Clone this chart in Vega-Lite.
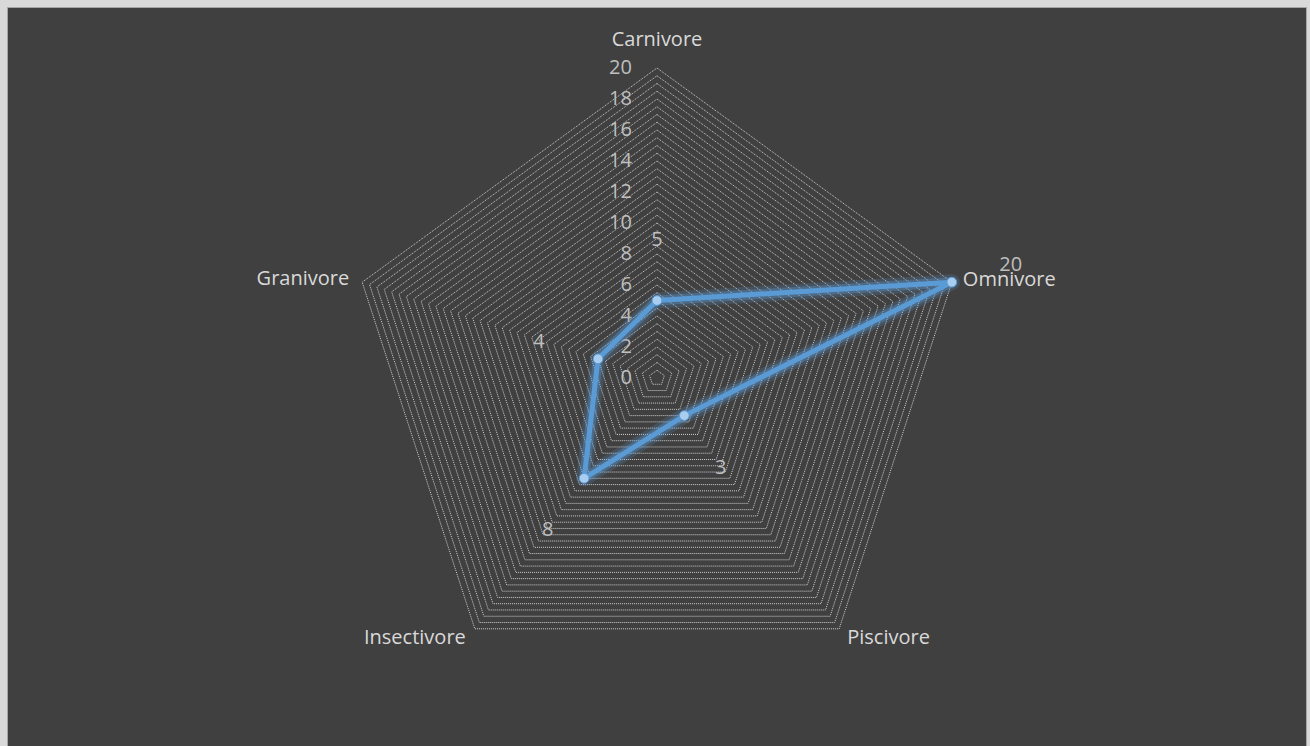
{
  "$schema": "https://vega.github.io/schema/vega-lite/v6.json",
  "width": 1299,
  "height": 739,
  "autosize": "none",
  "padding": {"left": 7, "top": 7, "right": 4, "bottom": 0},
  "background": "#d9d9d9",
  "config": {
    "view": {"fill": "#404040", "stroke": "#a6a6a6", "strokeWidth": 1},
    "text": {"font": "Open Sans", "fontSize": 20}
  },
  "datasets": {
    "diet": [
      {"category": "Carnivore", "i": 0, "value": 5},
      {"category": "Omnivore", "i": 1, "value": 20},
      {"category": "Piscivore", "i": 2, "value": 3},
      {"category": "Insectivore", "i": 3, "value": 8},
      {"category": "Granivore", "i": 4, "value": 4}
    ],
    "levels": [
      {"level": 0.5}, {"level": 1}, {"level": 1.5}, {"level": 2}, {"level": 2.5}, {"level": 3}, {"level": 3.5}, {"level": 4},
      {"level": 4.5}, {"level": 5}, {"level": 5.5}, {"level": 6}, {"level": 6.5}, {"level": 7}, {"level": 7.5}, {"level": 8},
      {"level": 8.5}, {"level": 9}, {"level": 9.5}, {"level": 10}, {"level": 10.5}, {"level": 11}, {"level": 11.5}, {"level": 12},
      {"level": 12.5}, {"level": 13}, {"level": 13.5}, {"level": 14}, {"level": 14.5}, {"level": 15}, {"level": 15.5}, {"level": 16},
      {"level": 16.5}, {"level": 17}, {"level": 17.5}, {"level": 18}, {"level": 18.5}, {"level": 19}, {"level": 19.5}, {"level": 20}
    ],
    "ticks": [
      {"tick": 0}, {"tick": 2}, {"tick": 4}, {"tick": 6}, {"tick": 8}, {"tick": 10},
      {"tick": 12}, {"tick": 14}, {"tick": 16}, {"tick": 18}, {"tick": 20}
    ]
  },
  "encoding": {
    "x": {"field": "px", "type": "quantitative", "scale": {"domain": [-41.935, 41.871], "nice": false, "zero": false}, "axis": null},
    "y": {"field": "py", "type": "quantitative", "scale": {"domain": [-23.742, 23.935], "nice": false, "zero": false}, "axis": null}
  },
  "layer": [
    {
      "data": {"name": "levels"},
      "transform": [
        {"calculate": "[0,1,2,3,4]", "as": "v"},
        {"flatten": ["v"]},
        {"calculate": "datum.level * sin(datum.v * 2 * PI / 5)", "as": "px"},
        {"calculate": "datum.level * cos(datum.v * 2 * PI / 5)", "as": "py"}
      ],
      "mark": {"type": "line", "interpolate": "linear-closed", "stroke": "#d0d0d0", "strokeWidth": 1, "strokeDash": [1, 1]},
      "encoding": {
        "detail": {"field": "level", "type": "quantitative"},
        "order": {"field": "v", "type": "quantitative"}
      }
    },
    {
      "data": {"name": "ticks"},
      "transform": [
        {"calculate": "0", "as": "px"},
        {"calculate": "datum.tick", "as": "py"}
      ],
      "mark": {"type": "text", "align": "right", "baseline": "middle", "dx": -25, "color": "#bfbfbf"},
      "encoding": {"text": {"field": "tick", "type": "quantitative"}}
    },
    {
      "data": {"name": "diet"},
      "transform": [
        {"filter": "datum.i == 0"},
        {"calculate": "20 * sin(datum.i * 2 * PI / 5)", "as": "px"},
        {"calculate": "20 * cos(datum.i * 2 * PI / 5)", "as": "py"}
      ],
      "mark": {"type": "text", "align": "center", "baseline": "middle", "dy": -28, "color": "#d9d9d9"},
      "encoding": {"text": {"field": "category"}}
    },
    {
      "data": {"name": "diet"},
      "transform": [
        {"filter": "datum.i == 1"},
        {"calculate": "20 * sin(datum.i * 2 * PI / 5)", "as": "px"},
        {"calculate": "20 * cos(datum.i * 2 * PI / 5)", "as": "py"}
      ],
      "mark": {"type": "text", "align": "left", "baseline": "middle", "dx": 11, "dy": -2, "color": "#d9d9d9"},
      "encoding": {"text": {"field": "category"}}
    },
    {
      "data": {"name": "diet"},
      "transform": [
        {"filter": "datum.i == 2"},
        {"calculate": "20 * sin(datum.i * 2 * PI / 5)", "as": "px"},
        {"calculate": "20 * cos(datum.i * 2 * PI / 5)", "as": "py"}
      ],
      "mark": {"type": "text", "align": "left", "baseline": "middle", "dx": 8, "dy": 9, "color": "#d9d9d9"},
      "encoding": {"text": {"field": "category"}}
    },
    {
      "data": {"name": "diet"},
      "transform": [
        {"filter": "datum.i == 3"},
        {"calculate": "20 * sin(datum.i * 2 * PI / 5)", "as": "px"},
        {"calculate": "20 * cos(datum.i * 2 * PI / 5)", "as": "py"}
      ],
      "mark": {"type": "text", "align": "right", "baseline": "middle", "dx": -9, "dy": 9, "color": "#d9d9d9"},
      "encoding": {"text": {"field": "category"}}
    },
    {
      "data": {"name": "diet"},
      "transform": [
        {"filter": "datum.i == 4"},
        {"calculate": "20 * sin(datum.i * 2 * PI / 5)", "as": "px"},
        {"calculate": "20 * cos(datum.i * 2 * PI / 5)", "as": "py"}
      ],
      "mark": {"type": "text", "align": "right", "baseline": "middle", "dx": -13, "dy": -3, "color": "#d9d9d9"},
      "encoding": {"text": {"field": "category"}}
    },
    {
      "data": {"name": "diet"},
      "transform": [
        {"calculate": "datum.value * sin(datum.i * 2 * PI / 5)", "as": "px"},
        {"calculate": "datum.value * cos(datum.i * 2 * PI / 5)", "as": "py"}
      ],
      "mark": {"type": "line", "interpolate": "linear-closed", "stroke": "#5b9bd5", "strokeWidth": 16, "opacity": 0.2, "strokeJoin": "round"},
      "encoding": {"order": {"field": "i", "type": "quantitative"}}
    },
    {
      "data": {"name": "diet"},
      "transform": [
        {"calculate": "datum.value * sin(datum.i * 2 * PI / 5)", "as": "px"},
        {"calculate": "datum.value * cos(datum.i * 2 * PI / 5)", "as": "py"}
      ],
      "mark": {"type": "line", "interpolate": "linear-closed", "stroke": "#5b9bd5", "strokeWidth": 10, "opacity": 0.35, "strokeJoin": "round"},
      "encoding": {"order": {"field": "i", "type": "quantitative"}}
    },
    {
      "data": {"name": "diet"},
      "transform": [
        {"calculate": "datum.value * sin(datum.i * 2 * PI / 5)", "as": "px"},
        {"calculate": "datum.value * cos(datum.i * 2 * PI / 5)", "as": "py"}
      ],
      "mark": {"type": "line", "interpolate": "linear-closed", "stroke": "#5b9bd5", "strokeWidth": 5, "strokeJoin": "round"},
      "encoding": {"order": {"field": "i", "type": "quantitative"}}
    },
    {
      "data": {"name": "diet"},
      "transform": [
        {"calculate": "datum.value * sin(datum.i * 2 * PI / 5)", "as": "px"},
        {"calculate": "datum.value * cos(datum.i * 2 * PI / 5)", "as": "py"}
      ],
      "mark": {"type": "point", "shape": "circle", "filled": true, "size": 95, "fill": "#a9cdef", "stroke": "#5b9bd5", "strokeWidth": 1, "opacity": 1}
    },
    {
      "data": {"name": "diet"},
      "transform": [
        {"calculate": "(datum.value + 4) * sin(datum.i * 2 * PI / 5)", "as": "px"},
        {"calculate": "(datum.value + 4) * cos(datum.i * 2 * PI / 5)", "as": "py"}
      ],
      "mark": {"type": "text", "align": "center", "baseline": "middle", "dy": 2, "color": "#bfbfbf"},
      "encoding": {"text": {"field": "value", "type": "quantitative"}}
    }
  ]
}
